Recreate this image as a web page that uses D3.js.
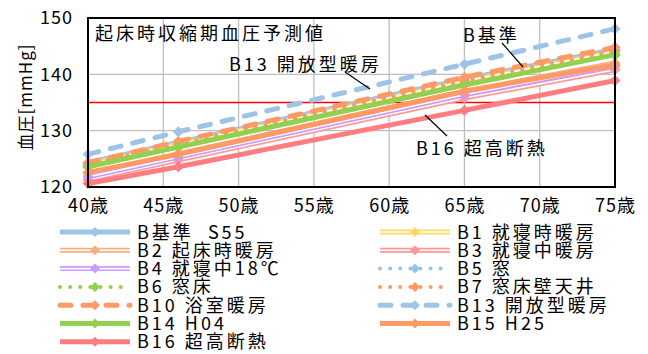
<!DOCTYPE html>
<html><head><meta charset="utf-8">
<script src="https://cdn.jsdelivr.net/npm/d3@7"></script>
<style>body{margin:0;background:#fff}svg{display:block}text{font-family:"Noto Sans CJK JP","Noto Sans",sans-serif;fill:#000}</style>
</head><body>
<script>
const ages = [40, 46, 65, 75];
const xTicks = [40, 45, 50, 55, 60, 65, 70, 75];
const yTicks = [120, 130, 140, 150];
const seriesNames = ["B基準  S55","B1 就寝時暖房","B2 起床時暖房","B3 就寝中暖房","B4 就寝中18℃","B5 窓","B6 窓床","B7 窓床壁天井","B10 浴室暖房","B13 開放型暖房","B14 H04","B15 H25","B16 超高断熱"];
const vKijun = [124.3, 127.9, 139.2, 144.4];
const vB1 = [124.0, 127.6, 138.8, 144.0];
const vB2 = [122.3, 125.9, 137.0, 142.0];
const vB3 = [121.3, 124.8, 135.8, 140.8];
const vB4 = [121.8, 125.3, 136.4, 141.5];
const vB5 = [124.1, 127.7, 139.0, 144.2];
const vB6 = [123.5, 127.0, 138.3, 143.4];
const vB7 = [124.0, 127.6, 138.8, 144.2];
const vB10 = [124.3, 128.1, 139.5, 144.8];
const vB13 = [125.8, 129.8, 141.8, 148.1];
const vB14 = [123.6, 127.1, 138.1, 143.5];
const vB15 = [122.6, 125.8, 137.0, 141.7];
const vB16 = [120.6, 123.6, 133.6, 138.9];
const refValue = 135;
const titleText = "起床時収縮期血圧予測値";
const yLabel = "血圧[mmHg]";
const annTexts = ["B13 開放型暖房", "B基準", "B16 超高断熱"];

const values = [vKijun,vB1,vB2,vB3,vB4,vB5,vB6,vB7,vB10,vB13,vB14,vB15,vB16];
const styles = [
 {c:"#9DC3E6", t:"solid"},
 {c:"#FFD966", t:"hollow"},
 {c:"#F4B183", t:"hollow"},
 {c:"#FF9999", t:"hollow"},
 {c:"#CC99FF", t:"hollow"},
 {c:"#9DC3E6", t:"dot"},
 {c:"#92D050", t:"dot"},
 {c:"#FF9966", t:"dot"},
 {c:"#FF9966", t:"dash"},
 {c:"#9DC3E6", t:"dash"},
 {c:"#92D050", t:"solid"},
 {c:"#FF9966", t:"solid"},
 {c:"#FF7C80", t:"solid"}
];

const W=648,H=354;
const svg=d3.select("body").append("svg").attr("width",W).attr("height",H);
const x=d3.scaleLinear().domain([40,75]).range([88,615]);
const y=d3.scaleLinear().domain([120,150]).range([187,18]);

// grid
svg.append("g").selectAll("line").data(xTicks.slice(1,-1)).join("line")
 .attr("x1",d=>x(d)).attr("x2",d=>x(d)).attr("y1",y(150)).attr("y2",y(120))
 .attr("stroke","#BFBFBF").attr("stroke-width",1.3);
svg.append("g").selectAll("line").data(yTicks.slice(1,-1)).join("line")
 .attr("x1",x(40)).attr("x2",x(75)).attr("y1",d=>y(d)).attr("y2",d=>y(d))
 .attr("stroke","#BFBFBF").attr("stroke-width",1.3);

// axes labels
const xa=d3.axisBottom(x).tickValues(xTicks).tickSize(0).tickPadding(12).tickFormat(d=>d+"歳");
const gx=svg.append("g").attr("transform",`translate(0,${y(120)})`).call(xa);
gx.select(".domain").remove();
gx.selectAll("text").attr("font-size",18).attr("letter-spacing",1).attr("font-family",'"Noto Sans CJK JP",sans-serif');
const ya=d3.axisLeft(y).tickValues(yTicks).tickSize(0).tickPadding(15);
const gy=svg.append("g").attr("transform",`translate(${x(40)},0)`).call(ya);
gy.select(".domain").remove();
gy.selectAll("text").attr("font-size",18).attr("letter-spacing",1).attr("font-family",'"Noto Sans CJK JP",sans-serif');

svg.append("text").attr("transform","translate(26,97) rotate(-90)").attr("text-anchor","middle").attr("dy","0.35em")
 .attr("font-size",17).attr("letter-spacing",1).text(yLabel);

// reference line
svg.append("line").attr("x1",x(40)).attr("x2",x(75)).attr("y1",y(refValue)).attr("y2",y(refValue))
 .attr("stroke","#FF0000").attr("stroke-width",1.3);

const line=d3.line().x((d,i)=>x(ages[i])).y(d=>y(d));
function drawStroke(g, path, st, w){
  const p=g.append("path").attr("d",path).attr("fill","none").attr("stroke",st.c).attr("stroke-linejoin","round");
  if(st.t==="solid"){p.attr("stroke-width",w);}
  else if(st.t==="hollow"){p.attr("stroke-width",w);
    g.append("path").attr("d",path).attr("fill","none").attr("stroke","#fff").attr("stroke-width",1.6);}
  else if(st.t==="dot"){p.attr("stroke-width",w-1).attr("stroke-dasharray","0.1 10").attr("stroke-linecap","round");}
  else if(st.t==="dash"){p.attr("stroke-width",w).attr("stroke-dasharray","11 12").attr("stroke-linecap","round");}
}
function diamond(g,cx,cy,c,s){
  g.append("path").attr("d",`M${cx},${cy-s}L${cx+s},${cy}L${cx},${cy+s}L${cx-s},${cy}Z`).attr("fill",c);
}
const plot=svg.append("g");
values.forEach((v,k)=>{
  const g=plot.append("g");
  drawStroke(g,line(v),styles[k],5);
  v.forEach((d,i)=>diamond(g,x(ages[i]),y(d),styles[k].c,5.5));
});

// frame
svg.append("rect").attr("x",x(40)).attr("y",y(150)).attr("width",x(75)-x(40)).attr("height",y(120)-y(150))
 .attr("fill","none").attr("stroke","#000").attr("stroke-width",2);

// title
svg.append("text").attr("x",95).attr("y",40).attr("font-size",18).attr("letter-spacing",3).text(titleText);

// annotations
const annPos=[
 {x:229,y:71,l:[345,72,370,89]},
 {x:463,y:42,l:[502,43,523,67]},
 {x:416,y:155,l:[447,136,425,115]}
];
annPos.forEach((a,i)=>{
  svg.append("text").attr("x",a.x).attr("y",a.y).attr("font-size",18).attr("letter-spacing",3).style("white-space","pre").text(annTexts[i]);
  svg.append("line").attr("x1",a.l[0]).attr("y1",a.l[1]).attr("x2",a.l[2]).attr("y2",a.l[3]).attr("stroke","#000").attr("stroke-width",1.2);
});

// legend
const leg=svg.append("g");
seriesNames.forEach((n,k)=>{
  const col=k%2, row=Math.floor(k/2);
  const x0=col?380:60, x1=col?450:130, yy=232+row*18.3;
  const g=leg.append("g");
  drawStroke(g,`M${x0},${yy}L${x1},${yy}`,styles[k],5);
  diamond(g,(x0+x1)/2,yy,styles[k].c,5);
  g.append("text").attr("x",x1+7).attr("y",yy+6.5).attr("font-size",18).attr("letter-spacing",3).style("white-space","pre").text(n);
});
</script>
</body></html>
